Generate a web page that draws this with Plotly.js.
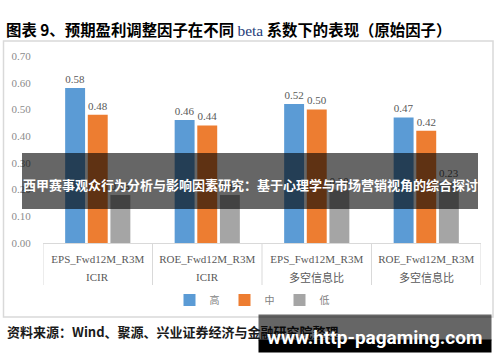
<!DOCTYPE html>
<html>
<head>
<meta charset="utf-8">
<script src="https://cdn.plot.ly/plotly-3.0.1.min.js"></script>
<style>html,body{margin:0;padding:0;background:#fff;}#chart{width:500px;height:362px;}</style>
</head>
<body>
<div id="chart"></div>
<script>
// ---- data ----
const factors = ['EPS_Fwd12M_R3M', 'ROE_Fwd12M_R3M', 'EPS_Fwd12M_R3M', 'ROE_Fwd12M_R3M'];
const metrics = ['ICIR', 'ICIR', '多空信息比', '多空信息比'];
const seriesNames = ['高', '中', '低'];
const high = [0.58, 0.46, 0.52, 0.47];
const mid  = [0.48, 0.44, 0.50, 0.42];
const low  = [0.18, 0.18, 0.20, 0.23];
const yTicks = [0, 0.1, 0.2, 0.3, 0.4, 0.5, 0.6, 0.7];
const titleText = '图表 9、预期盈利调整因子在不同 <span style="font-family:\'Liberation Serif\';color:#1f3c7a;font-weight:normal">beta</span> 系数下的表现（原始因子）';
const bannerText = '西甲赛事观众行为分析与影响因素研究：基于心理学与市场营销视角的综合探讨';
const sourceText = '资料来源：Wind、聚源、兴业证券经济与金融研究院整理';
const watermarkText = 'www.http-pagaming.com';

// ---- layout helpers ----
const W = 500, H = 362;
const M = {l: 43, r: 19, t: 56, b: 119};
const PW = W - M.l - M.r, PH = H - M.t - M.b;
const px = x => (x - M.l) / PW;
const py = y => (H - M.b - y) / PH;

const cats = factors.map((f, i) => f + '|' + metrics[i]);
const colors = ['#5b9bd5', '#ed7d31', '#a5a5a5'];
const serif = 'Liberation Serif, Times New Roman, serif';
const cjk = 'Noto Sans CJK SC, sans-serif';

const traces = [high, mid, low].map((vals, k) => ({
  type: 'bar', x: cats, y: vals, name: seriesNames[k],
  marker: {color: colors[k]},
  text: vals.map(v => v.toFixed(2)), textposition: 'outside',
  textfont: {family: serif, size: 11, color: '#595959'},
  cliponaxis: false, hoverinfo: 'skip'
}));

const shapes = [
  {type: 'rect', xref: 'paper', yref: 'paper', x0: px(3.5), x1: px(493), y0: py(41), y1: py(317),
   line: {color: '#d9d9d9', width: 1.5}, fillcolor: 'rgba(0,0,0,0)', layer: 'below'}
];
for (let i = 0; i <= cats.length; i++) {
  shapes.push({type: 'line', xref: 'x', yref: 'paper', x0: i - 0.5, x1: i - 0.5, y0: 0, y1: py(285),
    line: {color: '#d9d9d9', width: 1}});
}
shapes.push({type: 'rect', xref: 'paper', yref: 'paper', x0: px(22), x1: px(478), y0: py(153), y1: py(209),
  fillcolor: 'rgba(0,0,0,0.6)', line: {width: 0}, layer: 'above'});

const annotations = metrics.map((m, i) => ({
  xref: 'x', yref: 'paper', x: cats[i], y: py(277), xanchor: 'center', yanchor: 'middle', showarrow: false,
  text: m, font: {family: m === 'ICIR' ? serif : cjk, size: 11, color: '#595959'}
}));
annotations.push(
  {xref: 'paper', yref: 'paper', x: px(250), y: py(184), xanchor: 'center', yanchor: 'middle', showarrow: false,
   text: bannerText, font: {family: cjk, size: 13, color: '#ffffff', weight: 'bold'}},
  {xref: 'paper', yref: 'paper', x: px(5), y: py(331), xanchor: 'left', yanchor: 'middle', showarrow: false,
   text: sourceText, font: {family: cjk, size: 13, color: '#1a1a1a', weight: 'bold'}},
  {xref: 'paper', yref: 'paper', x: px(375), y: py(327.5), xanchor: 'center', yanchor: 'middle', showarrow: false,
   text: '&nbsp;', width: 232, height: 25, borderpad: 0, bgcolor: 'rgba(0,0,0,0.6)'},
  {xref: 'paper', yref: 'paper', x: px(375), y: py(346), xanchor: 'center', yanchor: 'middle', showarrow: false,
   text: '&nbsp;', width: 232, height: 12, borderpad: 0, bgcolor: '#000000'},
  {xref: 'paper', yref: 'paper', x: px(374), y: py(337), xanchor: 'center', yanchor: 'middle', showarrow: false,
   text: watermarkText, font: {family: 'Roboto, sans-serif', size: 19, color: '#ffffff', weight: 'bold'}}
);

const layout = {
  width: W, height: H, margin: M,
  paper_bgcolor: '#ffffff', plot_bgcolor: '#ffffff',
  title: {text: titleText, x: 6 / W, xanchor: 'left', xref: 'container', y: 1 - 31 / H, yanchor: 'middle',
          font: {family: cjk, size: 15.4, color: '#000000', weight: 'bold'}},
  barmode: 'group', bargap: 0.38, bargroupgap: 0.12,
  xaxis: {type: 'category', tickvals: cats, ticktext: factors, showline: true, linecolor: '#d9d9d9', linewidth: 1,
          ticks: 'outside', ticklen: 6, tickcolor: 'rgba(0,0,0,0)', showgrid: false, zeroline: false,
          tickfont: {family: serif, size: 11, color: '#595959'}, range: [-0.5, cats.length - 0.5], fixedrange: true},
  yaxis: {range: [0, 0.7], tickvals: yTicks, tickformat: '.2f', showgrid: false, zeroline: false, showline: false,
          ticks: 'outside', ticklen: 9, tickcolor: 'rgba(0,0,0,0)',
          tickfont: {family: serif, size: 11, color: '#8c8c8c'}, fixedrange: true},
  showlegend: true,
  legend: {orientation: 'h', x: px(252), xanchor: 'center', y: py(300), yanchor: 'middle',
           font: {family: cjk, size: 10, color: '#7f7f7f'}, itemwidth: 30, bgcolor: 'rgba(0,0,0,0)'},
  shapes: shapes, annotations: annotations
};

Plotly.newPlot('chart', traces, layout, {displayModeBar: false, staticPlot: true});
</script>
</body>
</html>
